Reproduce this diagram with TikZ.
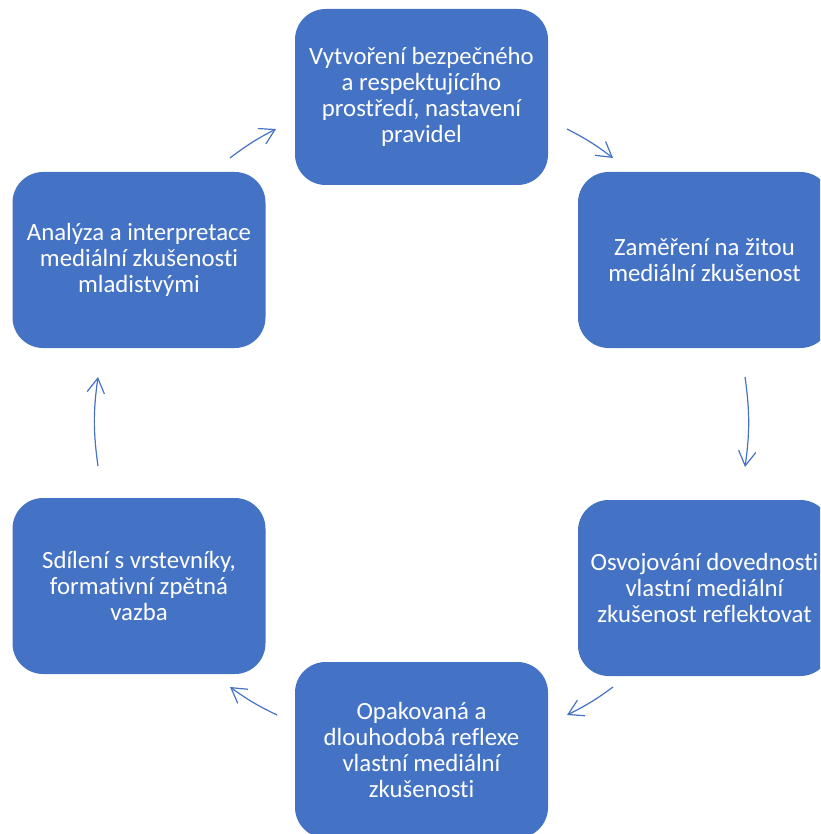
\documentclass[tikz,border=0pt]{standalone}
\usepackage{fontspec}
\setmainfont{Carlito}[Ligatures=NoCommon]
\usetikzlibrary{arrows.meta}
\definecolor{boxblue}{HTML}{4472C4}
\begin{document}
\begin{tikzpicture}[x=0.75pt,y=-0.75pt,
  stage/.style={fill=boxblue,draw=none,rounded corners=23pt,
    minimum width=189.75pt,minimum height=132pt,inner sep=0pt,
    text=white,align=center,font=\fontsize{18.6}{19.5}\selectfont},
  flow/.style={draw=boxblue,line width=0.9pt,
    -{Straight Barb[length=11pt,width=13pt,line width=0.9pt]}}]
\useasboundingbox (0,0) rectangle (820,834);
\clip (0,0) rectangle (820,834);
% the six stages of the cycle
\node[stage] (s1) at (421.5,97) {Vytvoření bezpečného\\a respektujícího\\prostředí, nastavení\\pravidel};
\node[stage] (s2) at (704.5,260) {Zaměření na žitou\\mediální zkušenost};
\node[stage] (s3) at (704.5,588) {Osvojování dovednosti\\vlastní mediální\\zkušenost reflektovat};
\node[stage] (s4) at (421.5,750) {Opakovaná a\\dlouhodobá reflexe\\vlastní mediální\\zkušenosti};
\node[stage] (s5) at (139,586) {Sdílení s vrstevníky,\\formativní zpětná\\vazba};
\node[stage] (s6) at (139,260) {Analýza a interpretace\\mediální zkušenosti\\mladistvými};
% end points of the connecting arcs
\coordinate (a1) at (230,158); \coordinate (b1) at (276,129);
\coordinate (a2) at (567,129); \coordinate (b2) at (613,158);
\coordinate (a3) at (745,377); \coordinate (b3) at (745,467);
\coordinate (a4) at (613,687); \coordinate (b4) at (567,715);
\coordinate (a5) at (277,715); \coordinate (b5) at (230,687);
\coordinate (a6) at (98,466);  \coordinate (b6) at (98,377);
\draw[flow] (a1) to[bend left=5] (b1);
\draw[flow] (a2) to[bend left=5] (b2);
\draw[flow] (a3) to[bend left=8] (b3);
\draw[flow] (a4) to[bend left=5] (b4);
\draw[flow] (a5) to[bend left=5] (b5);
\draw[flow] (a6) to[bend left=8] (b6);
\end{tikzpicture}
\end{document}
